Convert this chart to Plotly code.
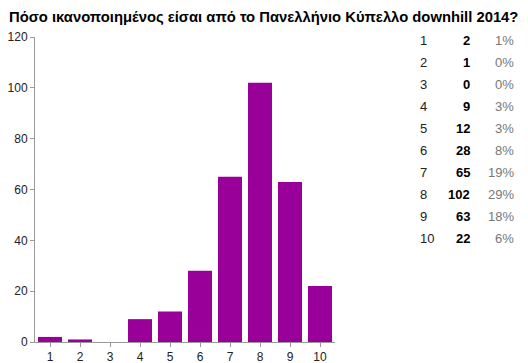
import plotly.graph_objects as go

categories = [1, 2, 3, 4, 5, 6, 7, 8, 9, 10]
counts = [2, 1, 0, 9, 12, 28, 65, 102, 63, 22]
percent_labels = ["1%", "0%", "0%", "3%", "3%", "8%", "19%", "29%", "18%", "6%"]
title_text = "Πόσο ικανοποιημένος είσαι από το Πανελλήνιο Κύπελλο downhill 2014?"

W, H = 528, 363
ml, mr, mt, mb = 35, 193, 37, 21

fig = go.Figure()
fig.add_trace(go.Bar(x=categories, y=counts, marker=dict(color="#990099", line=dict(width=0)),
                     width=0.8, hoverinfo="x+y"))

fig.update_layout(
    width=W, height=H,
    margin=dict(l=ml, r=mr, t=mt, b=mb, pad=0, autoexpand=False),
    paper_bgcolor="white", plot_bgcolor="white",
    font=dict(family="Liberation Sans, Arial, sans-serif", size=12, color="#222"),
    showlegend=False,
    xaxis=dict(range=[0.5, 10.5], tickvals=categories, ticktext=[str(c) for c in categories],
               showgrid=False, zeroline=False, showline=True, linecolor="#999", linewidth=1,
               ticks="outside", ticklen=4, tickcolor="#999", automargin=False,
               tickfont=dict(size=12, color="#222")),
    yaxis=dict(range=[0, 120], dtick=20, showgrid=False, zeroline=False, showline=True,
               linecolor="#999", linewidth=1, ticks="outside", ticklen=4, tickcolor="#999",
               automargin=False, tickfont=dict(size=12, color="#222")),
)

pw = W - ml - mr
ph = H - mt - mb
def px_x(x):
    return (x - ml) / pw
def px_y(y):
    return (H - mb - y) / ph

fig.add_annotation(text="<b>" + title_text + "</b>", xref="paper", yref="paper",
                   x=px_x(7), y=px_y(17),
                   xanchor="left", yanchor="middle", showarrow=False,
                   font=dict(size=14.8, color="#000", family="Liberation Sans, Arial, sans-serif"))

for i, (c, n, p) in enumerate(zip(categories, counts, percent_labels)):
    yy = px_y(41 + i * 21.9)
    fig.add_annotation(text=str(c), xref="paper", yref="paper", x=px_x(418), y=yy,
                       xanchor="left", yanchor="middle", showarrow=False,
                       font=dict(size=13, color="#222"))
    fig.add_annotation(text="<b>" + str(n) + "</b>", xref="paper", yref="paper", x=px_x(472), y=yy,
                       xanchor="right", yanchor="middle", showarrow=False,
                       font=dict(size=13, color="#000"))
    fig.add_annotation(text=p, xref="paper", yref="paper", x=px_x(516), y=yy,
                       xanchor="right", yanchor="middle", showarrow=False,
                       font=dict(size=13, color="#777"))

fig.write_html("out.html", config={"displayModeBar": False},
               post_script="document.body.style.margin='0';document.body.style.overflow='hidden';")
